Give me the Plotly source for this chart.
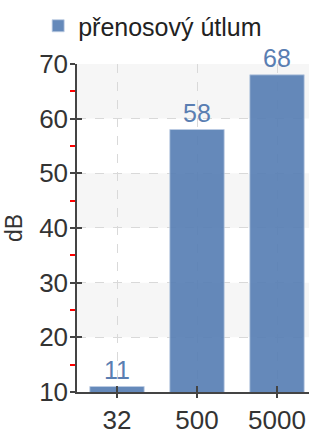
import plotly.graph_objects as go

categories = ["32", "500", "5000"]
values = [11, 58, 68]
series_name = "přenosový útlum"
y_axis_title = "dB"
y_min, y_max, y_step = 10, 70, 10

BAR = "rgba(84,124,178,0.9)"
TXT = "rgb(90,126,178)"
AX = "#444444"
FONT = "Liberation Sans, Arial, sans-serif"

fig = go.Figure()
fig.add_trace(go.Bar(
    x=categories, y=values, name=series_name,
    marker=dict(color=BAR, line=dict(color="rgba(190,205,228,0.8)", width=1)),
    width=0.68,
    text=[str(v) for v in values], textposition="outside",
    textfont=dict(color=TXT, size=25, family=FONT),
    cliponaxis=False,
    showlegend=True,
))

# alternating background bands between major ticks
ticks = list(range(y_min, y_max + 1, y_step))
for i in range(len(ticks) - 1):
    if (len(ticks) - 2 - i) % 2 == 0:
        fig.add_shape(type="rect", xref="paper", yref="y",
                      x0=0, x1=1, y0=ticks[i], y1=ticks[i + 1],
                      fillcolor="#f6f6f6", line=dict(width=0), layer="below")

fig.update_layout(
    width=309, height=435,
    margin=dict(l=77, r=0, t=62, b=31),
    paper_bgcolor="white", plot_bgcolor="white",
    font=dict(family=FONT, size=25, color="#333333"),
    bargap=0.32,
    showlegend=True,
    legend=dict(orientation="h", xref="container", yref="container",
                x=0.494, xanchor="center", y=1 - 26 / 435, yanchor="middle",
                font=dict(size=25, color="#222222"),
                itemwidth=30, tracegroupgap=0),
    xaxis=dict(
        type="category", categoryorder="array", categoryarray=categories,
        range=[-0.5, 2.4],
        showgrid=True, gridcolor="#d9d9d9", griddash="dash", gridwidth=1,
        showline=True, linecolor=AX, linewidth=1.5,
        ticks="outside", ticklen=4, tickcolor=AX, tickwidth=1.5,
        tickfont=dict(size=26, color="#333333"),
        zeroline=False,
    ),
    xaxis2=dict(
        overlaying="x", range=[-0.5, 2.4],
        tickvals=list(range(len(categories))), showticklabels=False,
        ticks="inside", ticklen=6, tickcolor=AX, tickwidth=1.5,
        showgrid=False, showline=False, zeroline=False, side="bottom",
    ),
    yaxis=dict(
        range=[y_min, y_max], dtick=y_step, tick0=y_min,
        title=dict(text=y_axis_title, standoff=10, font=dict(size=23, color="#333333")),
        showgrid=True, gridcolor="#d9d9d9", griddash="dash", gridwidth=1,
        showline=True, linecolor=AX, linewidth=1.5,
        ticks="outside", ticklen=5, tickcolor=AX, tickwidth=1.5,
        tickfont=dict(size=26, color="#333333"),
        ticklabelstandoff=-3,
        minor=dict(ticks="outside", ticklen=5, tickcolor="red", tickwidth=2,
                   tick0=y_min + y_step / 2, dtick=y_step, showgrid=False),
        zeroline=False,
    ),
    yaxis2=dict(
        overlaying="y", range=[y_min, y_max], dtick=y_step, tick0=y_min,
        showticklabels=False, ticks="inside", ticklen=5, tickcolor=AX, tickwidth=1.5,
        showgrid=False, showline=False, zeroline=False, side="left",
    ),
)

# invisible helper trace to activate overlay axes for crossing ticks
fig.add_trace(go.Scatter(x=[None], y=[None], xaxis="x2", yaxis="y2",
                         showlegend=False, hoverinfo="skip"))

fig.write_html("out.html", config={"displayModeBar": False},
               post_script="document.body.style.margin='0';document.body.style.overflow='hidden';")
